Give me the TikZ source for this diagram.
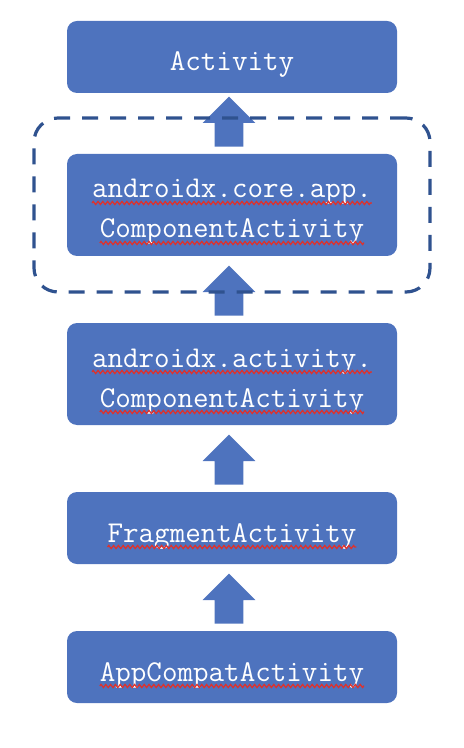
\documentclass[tikz,border=0pt]{standalone}
\usepackage{fontspec}
\usetikzlibrary{positioning, fit, shapes.arrows, decorations.pathmorphing}

\definecolor{boxblue}{HTML}{4E73BE}
\definecolor{frameblue}{HTML}{2F528F}
\definecolor{spellred}{HTML}{E0302A}

% red wavy line under a word
\newcommand{\squig}[1]{\tikz[baseline, sharp corners, solid]{%
    \node[inner sep=0pt, outer sep=0pt, anchor=base, draw=none, fill=none, text=white, minimum width=0pt, minimum height=0pt, text height=, text depth=] (word) at (0,0) {#1};
    \draw[spellred, line width=0.6pt, decorate, decoration={zigzag, amplitude=0.8pt, segment length=2.4pt}]
        ([yshift=-2.5pt]word.base west) -- ([yshift=-2.5pt]word.base east);}}

\begin{document}
\begin{tikzpicture}[
    node distance=33.5pt,
    classbox/.style={rectangle, rounded corners=5pt, fill=boxblue, text=white, outer sep=0pt,
        minimum width=165pt, align=center, font=\ttfamily\fontsize{15.1pt}{20pt}\selectfont},
    onerow/.style={classbox, minimum height=36pt, text height=14pt, text depth=0pt},
    tworow/.style={classbox, minimum height=51pt, text height=33pt, text depth=0pt},
    upArrow/.style={single arrow, shape border rotate=90, fill=boxblue, minimum height=25pt,
        minimum width=26pt, single arrow head extend=6pt, inner sep=7pt, anchor=tail,
        yshift=3.5pt, xshift=-1.5pt}
]
    \useasboundingbox (0,0) rectangle (232pt,-374pt);

    % define boxes
    \node[onerow] (activity) at (116pt,-28.5pt) {Activity};
    \node[tworow, below=30.5pt of activity] (coreact) {\squig{androidx.core.app.}\\\squig{ComponentActivity}};
    \node[tworow, below=of coreact] (actact) {\squig{androidx.activity.}\\\squig{ComponentActivity}};
    \node[onerow, below=of actact] (fragact) {\squig{FragmentActivity}};
    \node[onerow, below=of fragact] (appcompat) {\squig{AppCompatActivity}};

    % arrows
    \foreach \src/\dst in {coreact/activity, actact/coreact, fragact/actact, appcompat/fragact}
        \path (\src.north) -- (\dst.south) node[pos=0, upArrow] (arr\src) {};

    % dashed frame
    \node[fit=(coreact), draw=frameblue, line width=1.6pt, dash pattern=on 8pt off 6pt,
        rounded corners=12pt, inner xsep=16.5pt, inner ysep=18pt] (frame) {};
\end{tikzpicture}
\end{document}
